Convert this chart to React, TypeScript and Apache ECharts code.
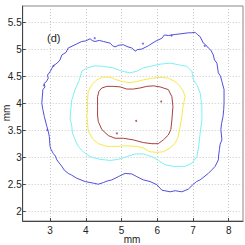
import React, { useEffect, useRef } from "react";
import * as echarts from "echarts";

const xTicks = [3, 4, 5, 6, 7, 8];
const yTicks = [2, 2.5, 3, 3.5, 4, 4.5, 5, 5.5];
const xName = "mm";
const yName = "mm";
const panelLabel = "(d)";

const blue: number[][] = [
  [2.77, 4.0], [2.8, 4.25], [2.86, 4.3], [2.83, 4.36], [2.9, 4.4], [2.95, 4.46], [2.93, 4.52], [3.0, 4.58], [3.09, 4.69], [3.2, 4.74], [3.28, 4.8],
  [3.33, 4.89], [3.45, 4.94], [3.51, 5.02], [3.7, 5.08], [3.89, 5.14], [4.0, 5.15], [4.12, 5.19], [4.2, 5.15], [4.26, 5.14], [4.38, 5.16], [4.49, 5.14],
  [4.68, 5.11], [4.75, 5.06], [4.82, 5.04], [4.92, 5.07], [5.05, 5.08], [5.18, 5.04], [5.29, 5.02], [5.38, 4.96], [5.45, 4.99], [5.57, 5.0], [5.75, 5.06],
  [5.94, 5.14], [6.13, 5.2], [6.2, 5.26], [6.31, 5.25], [6.5, 5.27], [6.64, 5.28], [6.87, 5.3], [6.95, 5.3], [7.06, 5.31], [7.12, 5.27], [7.2, 5.23],
  [7.29, 5.11], [7.35, 5.08], [7.43, 5.02], [7.5, 4.98], [7.57, 4.89], [7.6, 4.8], [7.67, 4.74], [7.71, 4.56], [7.77, 4.5], [7.81, 4.4], [7.87, 4.25],
  [7.87, 4.0], [7.86, 3.88], [7.84, 3.75], [7.8, 3.62], [7.78, 3.51], [7.81, 3.32], [7.76, 3.24], [7.74, 3.14], [7.72, 3.04], [7.71, 2.95], [7.62, 2.83],
  [7.52, 2.76], [7.43, 2.7], [7.2, 2.58], [7.1, 2.55], [7.01, 2.5], [6.87, 2.41], [6.69, 2.36], [6.5, 2.38], [6.36, 2.36], [6.13, 2.39],
  [5.99, 2.49], [5.8, 2.55], [5.61, 2.58], [5.43, 2.64], [5.29, 2.69], [5.1, 2.7], [4.91, 2.64],
  [4.73, 2.58], [4.6, 2.56], [4.49, 2.53], [4.35, 2.5], [4.21, 2.52], [3.98, 2.55], [3.75, 2.61], [3.6, 2.67], [3.51, 2.7], [3.4, 2.76], [3.33, 2.83],
  [3.19, 2.95], [3.15, 3.02], [3.09, 3.07], [3.03, 3.14], [3.0, 3.2], [2.98, 3.38], [2.95, 3.48], [2.91, 3.57], [2.84, 3.75], [2.8, 3.88],
  [2.77, 4.0],
];

const cyan: number[][] = [
  [3.58, 3.88], [3.61, 4.06], [3.7, 4.25], [3.82, 4.43], [3.89, 4.59], [4.03, 4.65], [4.26, 4.69],
  [4.49, 4.68], [4.77, 4.65], [5.01, 4.59], [5.24, 4.56], [5.43, 4.59], [5.61, 4.65], [5.8, 4.68],
  [6.08, 4.72], [6.36, 4.74], [6.59, 4.71], [6.83, 4.68], [6.97, 4.59], [7.01, 4.43], [7.11, 4.34],
  [7.2, 4.19], [7.25, 3.94], [7.25, 3.69], [7.2, 3.44], [7.16, 3.2], [7.11, 3.01], [6.97, 2.89],
  [6.78, 2.83], [6.45, 2.83], [6.22, 2.86], [6.03, 2.94], [5.85, 3.01], [5.61, 3.06], [5.38, 3.06],
  [5.15, 3.01], [4.91, 2.96], [4.68, 2.94], [4.4, 2.96], [4.12, 3.01], [3.93, 3.1], [3.79, 3.2],
  [3.7, 3.32], [3.63, 3.44], [3.61, 3.57], [3.56, 3.72], [3.58, 3.88],
];

const yellow: number[][] = [
  [4.05, 3.88], [4.05, 4.06], [4.07, 4.22], [4.17, 4.34], [4.31, 4.43], [4.45, 4.48], [4.68, 4.48],
  [4.82, 4.44], [5.01, 4.4], [5.24, 4.38], [5.43, 4.4], [5.61, 4.43], [5.85, 4.46], [6.08, 4.48],
  [6.31, 4.46], [6.5, 4.4], [6.64, 4.31], [6.73, 4.22], [6.78, 4.12], [6.72, 3.94], [6.69, 3.75],
  [6.64, 3.57], [6.59, 3.38], [6.5, 3.26], [6.36, 3.17], [6.17, 3.1], [5.99, 3.09], [5.8, 3.1],
  [5.61, 3.17], [5.43, 3.2], [5.15, 3.21], [4.87, 3.2], [4.59, 3.2], [4.35, 3.25], [4.2, 3.33],
  [4.07, 3.48], [4.05, 3.63], [4.03, 3.75], [4.05, 3.88],
];

const red: number[][] = [
  [4.33, 3.94], [4.33, 4.12], [4.37, 4.22], [4.45, 4.28], [4.59, 4.31], [4.77, 4.31], [4.96, 4.3],
  [5.15, 4.26], [5.33, 4.26], [5.52, 4.28], [5.71, 4.31], [5.89, 4.32], [6.08, 4.3], [6.31, 4.25],
  [6.41, 4.12], [6.44, 3.94], [6.41, 3.69], [6.38, 3.51], [6.31, 3.41], [6.17, 3.32], [6.03, 3.25],
  [5.85, 3.25], [5.61, 3.27], [5.33, 3.32], [5.05, 3.35], [4.82, 3.35], [4.63, 3.4], [4.45, 3.51],
  [4.35, 3.66], [4.33, 3.78], [4.33, 3.94],
];

const redDots: number[][] = [[4.87, 3.44], [5.41, 3.67], [6.11, 4.03]];
const blueDots: number[][] = [[2.83, 4.33], [3.1, 4.69], [2.92, 3.5], [4.25, 5.2], [5.6, 5.1], [6.4, 5.25], [7.33, 5.06]];

const COLORS = { blue: "#5050dc", cyan: "#80f0f0", yellow: "#f7e94a", red: "#a8403f" };

export default function App() {
  const ref = useRef<HTMLDivElement>(null);
  useEffect(() => {
    if (!ref.current) return;
    const chart = echarts.init(ref.current, undefined, { renderer: "svg" });
    const font = "'Liberation Sans', Arial, sans-serif";
    const lineSeries = (data: number[][], color: string) => ({
      type: "line",
      data,
      showSymbol: false,
      symbol: "none",
      lineStyle: { color, width: 1 },
      silent: true,
    });
    chart.setOption({
      animation: false,
      backgroundColor: "#fff",
      grid: {
        left: 22.7, right: 2, top: 6, bottom: 24,
        show: true, borderColor: "#888", borderWidth: 1,
        containLabel: false, outerBoundsMode: "none",
      },
      xAxis: {
        type: "value",
        min: 2.235,
        max: 8.4,
        axisLine: { lineStyle: { color: "#444" } },
        axisTick: { inside: true, length: 3, customValues: xTicks, lineStyle: { color: "#444" } },
        axisLabel: { customValues: xTicks, fontFamily: font, fontSize: 10, color: "#222", margin: 4 },
        splitLine: { show: true, lineStyle: { color: "#c8c8c8", type: [1, 2] } },
      },
      yAxis: {
        type: "value",
        min: 1.82,
        max: 5.796,
        axisLine: { show: true, lineStyle: { color: "#444" } },
        axisTick: { show: true, inside: true, length: 3, customValues: yTicks, lineStyle: { color: "#444" } },
        axisLabel: {
          customValues: yTicks,
          fontFamily: font,
          fontSize: 10,
          color: "#222",
          margin: 1,
          formatter: (v: number) => String(v),
        },
        splitLine: { show: true, lineStyle: { color: "#c8c8c8", type: [1, 2] } },
      },
      graphic: [
        { type: "text", left: 47, top: 32, style: { text: panelLabel, fontFamily: font, fontSize: 11, fill: "#222" } },
        {
          type: "text", x: 132, y: 239,
          style: { text: xName, fontFamily: font, fontSize: 10, fill: "#222", align: "center", verticalAlign: "middle" },
        },
        {
          type: "text", x: 6, y: 113, rotation: Math.PI / 2,
          style: { text: yName, fontFamily: font, fontSize: 10, fill: "#222", align: "center", verticalAlign: "middle" },
        },
      ],
      series: [
        lineSeries(blue, COLORS.blue),
        lineSeries(cyan, COLORS.cyan),
        lineSeries(yellow, COLORS.yellow),
        lineSeries(red, COLORS.red),
        { type: "scatter", data: redDots, symbolSize: 2, itemStyle: { color: COLORS.red }, silent: true },
        { type: "scatter", data: blueDots, symbolSize: 2, itemStyle: { color: COLORS.blue }, silent: true },
      ],
    });
    return () => chart.dispose();
  }, []);
  return <div ref={ref} style={{ position: "fixed", left: 0, top: 0, width: 245, height: 245 }} />;
}
